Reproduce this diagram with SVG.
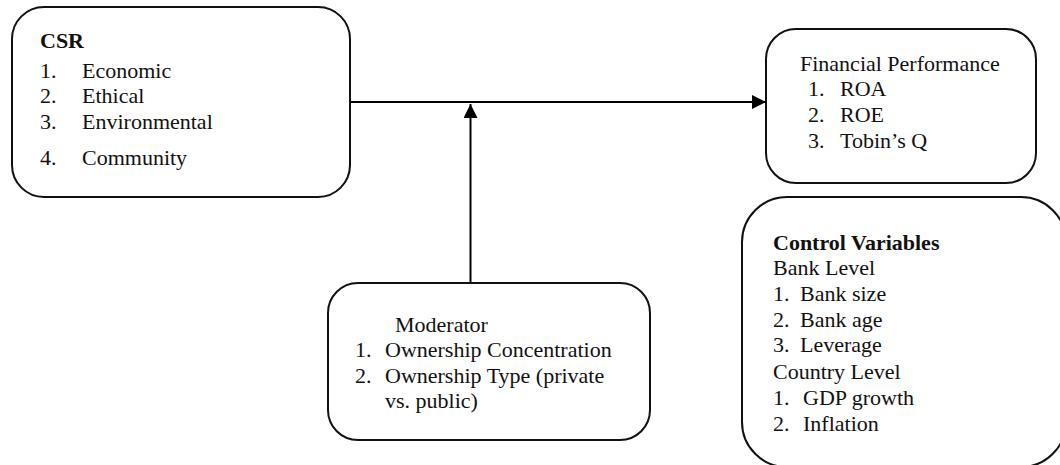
<svg xmlns="http://www.w3.org/2000/svg" width="1060" height="465" viewBox="0 0 1060 465">
<defs>
<style>
.box{fill:#fff;stroke:#111;stroke-width:2}
.t{font-family:'Liberation Serif','DejaVu Serif',serif;font-size:22px;fill:#111}
.b{font-weight:bold}
.conn{stroke:#000;stroke-width:2;fill:none}
</style>
<marker id="ah" markerWidth="14" markerHeight="14" refX="14" refY="7" orient="auto" markerUnits="userSpaceOnUse">
<path d="M0,0 L14,7 L0,14 Z" fill="#000"/>
</marker>
</defs>
<rect width="1060" height="465" fill="#fff"/>
<g id="csr" class="t" font-family="Liberation Serif, serif">
<rect class="box" x="12" y="7" width="338" height="190" rx="32"/>
<text class="b" x="40" y="48">CSR</text>
<text x="40" y="78">1.</text><text x="82" y="78">Economic</text>
<text x="40" y="103">2.</text><text x="82" y="103">Ethical</text>
<text x="40" y="129">3.</text><text x="82" y="129">Environmental</text>
<text x="40" y="165">4.</text><text x="82" y="165">Community</text>
</g>
<g id="financial" class="t" font-family="Liberation Serif, serif">
<rect class="box" x="766" y="29" width="270" height="154" rx="30"/>
<text x="800" y="71">Financial Performance</text>
<text x="808" y="96">1.</text><text x="840" y="96">ROA</text>
<text x="808" y="122">2.</text><text x="840" y="122">ROE</text>
<text x="808" y="148">3.</text><text x="840" y="148">Tobin’s Q</text>
</g>
<g id="moderator" class="t" font-family="Liberation Serif, serif">
<rect class="box" x="328" y="283" width="322" height="157" rx="30"/>
<text x="395" y="332">Moderator</text>
<text x="355" y="357">1.</text><text x="385" y="357">Ownership Concentration</text>
<text x="355" y="383">2.</text><text x="385" y="383">Ownership Type (private</text>
<text x="385" y="408">vs. public)</text>
</g>
<g id="control" class="t" font-family="Liberation Serif, serif">
<rect class="box" x="742" y="197" width="324" height="270" rx="45"/>
<text class="b" x="773" y="250">Control Variables</text>
<text x="773" y="275">Bank Level</text>
<text x="773" y="301">1.</text><text x="800" y="301">Bank size</text>
<text x="773" y="327">2.</text><text x="800" y="327">Bank age</text>
<text x="773" y="352">3.</text><text x="800" y="352">Leverage</text>
<text x="773" y="379">Country Level</text>
<text x="773" y="405">1.</text><text x="803" y="405">GDP growth</text>
<text x="773" y="431">2.</text><text x="803" y="431">Inflation</text>
</g>
<g id="connectors">
<line class="conn" x1="350" y1="102" x2="766" y2="102" marker-end="url(#ah)"/>
<line class="conn" x1="470.5" y1="283" x2="470.5" y2="104" marker-end="url(#ah)"/>
</g>
</svg>
